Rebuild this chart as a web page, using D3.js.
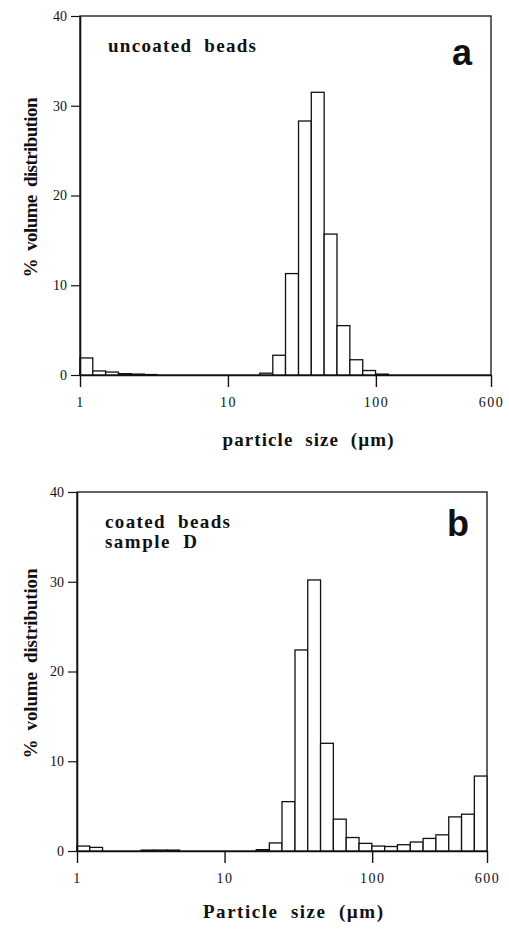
<!DOCTYPE html>
<html>
<head>
<meta charset="utf-8">
<script src="https://cdn.jsdelivr.net/npm/d3@7"></script>
<style>
  body { margin: 0; background: #fff; }
  svg { display: block; }
  text { fill: #111; }
</style>
</head>
<body>
<div id="chart"></div>
<script>
// Bin edges (µm), log-spaced from 1 to 600 — 32 bins
const binEdges = [1, 1.22, 1.49, 1.82, 2.23, 2.72, 3.32, 4.06, 4.95, 6.05, 7.39, 9.03,
    11.0, 13.5, 16.4, 20.1, 24.5, 30.0, 36.6, 44.7, 54.6, 66.7, 81.5, 99.5,
    121.5, 148.4, 181.3, 221.4, 270.4, 330.3, 403.4, 492.7, 600];

// % volume per bin, panel a (uncoated beads)
const uncoated = [1.9, 0.45, 0.33, 0.15, 0.1, 0.05, 0, 0, 0, 0, 0, 0,
    0, 0, 0.2, 2.2, 11.3, 28.3, 31.5, 15.7, 5.5, 1.7, 0.5, 0.1,
    0, 0, 0, 0, 0, 0, 0, 0];

// % volume per bin, panel b (coated beads, sample D)
const coated = [0.55, 0.4, 0, 0, 0, 0.1, 0.1, 0.1, 0, 0, 0, 0,
    0, 0, 0.15, 0.9, 5.5, 22.4, 30.2, 12.0, 3.55, 1.5, 0.85, 0.55,
    0.5, 0.7, 1.0, 1.4, 1.8, 3.8, 4.1, 8.35];

const xTicks = [1, 10, 100, 600];
const yTicks = [0, 10, 20, 30, 40];

const panels = [
    { id: 'a', data: uncoated, xTitle: 'particle  size  (\u00b5m)',
      lines: [{ t: 'uncoated  beads', len: 148 }],
      left: 80, right: 491, top: 16, bottom: 375, titleY: 446, titleX: 308, titleLen: 171, yLen: 180 },
    { id: 'b', data: coated, xTitle: 'Particle  size  (\u00b5m)',
      lines: [{ t: 'coated  beads', len: 125 }, { t: 'sample  D', len: 92 }],
      left: 77, right: 487, top: 492, bottom: 851, titleY: 918, titleX: 293, titleLen: 180, yLen: 190 }
];

const serif = '"Liberation Serif", "DejaVu Serif", serif';

const svg = d3.select('#chart')
    .append('svg')
    .attr('width', 509)
    .attr('height', 931);

panels.forEach(p => {
    const x = d3.scaleLog().domain([1, 600]).range([p.left, p.right]);
    const y = d3.scaleLinear().domain([0, 40]).range([p.bottom, p.top]);
    const g = svg.append('g');

    // Frame
    g.append('rect')
        .attr('x', p.left)
        .attr('y', p.top)
        .attr('width', p.right - p.left)
        .attr('height', p.bottom - p.top)
        .attr('fill', 'none')
        .attr('stroke', '#111')
        .attr('stroke-width', 1.3);

    // Bars
    const bins = p.data.map((v, i) => ({ v, x0: binEdges[i], x1: binEdges[i + 1] }))
        .filter(d => d.v > 0);
    g.selectAll('rect.bar')
        .data(bins)
        .enter()
        .append('rect')
        .attr('class', 'bar')
        .attr('x', d => x(d.x0))
        .attr('width', d => x(d.x1) - x(d.x0))
        .attr('y', d => y(d.v))
        .attr('height', d => y(0) - y(d.v))
        .attr('fill', '#fff')
        .attr('stroke', '#111')
        .attr('stroke-width', 1.3);

    // X axis
    const xAxis = g.append('g')
        .attr('transform', `translate(0,${p.bottom})`)
        .call(d3.axisBottom(x).tickValues(xTicks).tickFormat(d3.format('d'))
            .tickSize(12).tickSizeOuter(0).tickPadding(10));
    xAxis.select('.domain').attr('stroke', '#111').attr('stroke-width', 1.6);
    xAxis.selectAll('.tick line').attr('stroke', '#111').attr('stroke-width', 1.4);
    xAxis.selectAll('.tick text')
        .attr('font-family', serif)
        .attr('font-size', 14)
        .attr('letter-spacing', 1.5)
        .attr('fill', '#222');

    // Y axis
    const yAxis = g.append('g')
        .attr('transform', `translate(${p.left},0)`)
        .call(d3.axisLeft(y).tickValues(yTicks).tickSize(9).tickSizeOuter(0).tickPadding(4));
    yAxis.select('.domain').attr('stroke', '#111').attr('stroke-width', 1.6);
    yAxis.selectAll('.tick line').attr('stroke', '#111').attr('stroke-width', 1.2);
    yAxis.selectAll('.tick text')
        .attr('font-family', serif)
        .attr('font-size', 14)
        .attr('fill', '#222');

    // Sample label
    p.lines.forEach((line, k) => {
        g.append('text')
            .attr('x', p.left + 28)
            .attr('y', p.top + 36 + k * 20)
            .attr('font-family', serif)
            .attr('font-weight', 'bold')
            .attr('font-size', 19)
            .attr('textLength', line.len)
            .attr('lengthAdjust', 'spacing')
            .style('white-space', 'pre')
            .text(line.t);
    });

    // Panel letter
    g.append('text')
        .attr('x', p.right - 29)
        .attr('y', p.id === 'a' ? 65 : 536)
        .attr('text-anchor', 'middle')
        .attr('font-family', '"Liberation Sans", Arial, sans-serif')
        .attr('font-weight', 'bold')
        .attr('font-size', 36)
        .text(p.id);

    // X title
    g.append('text')
        .attr('x', p.titleX)
        .attr('y', p.titleY)
        .attr('text-anchor', 'middle')
        .attr('font-family', serif)
        .attr('font-weight', 'bold')
        .attr('font-size', 19)
        .attr('textLength', p.titleLen)
        .attr('lengthAdjust', 'spacing')
        .style('white-space', 'pre')
        .text(p.xTitle);

    // Y title
    const cy = (p.top + p.bottom) / 2 - 8;
    g.append('text')
        .attr('transform', `translate(37,${cy}) rotate(-90)`)
        .attr('text-anchor', 'middle')
        .attr('font-family', serif)
        .attr('font-weight', 'bold')
        .attr('font-size', 19)
        .attr('textLength', p.yLen)
        .attr('lengthAdjust', 'spacing')
        .style('white-space', 'pre')
        .text('%  volume  distribution');
});
</script>
</body>
</html>
